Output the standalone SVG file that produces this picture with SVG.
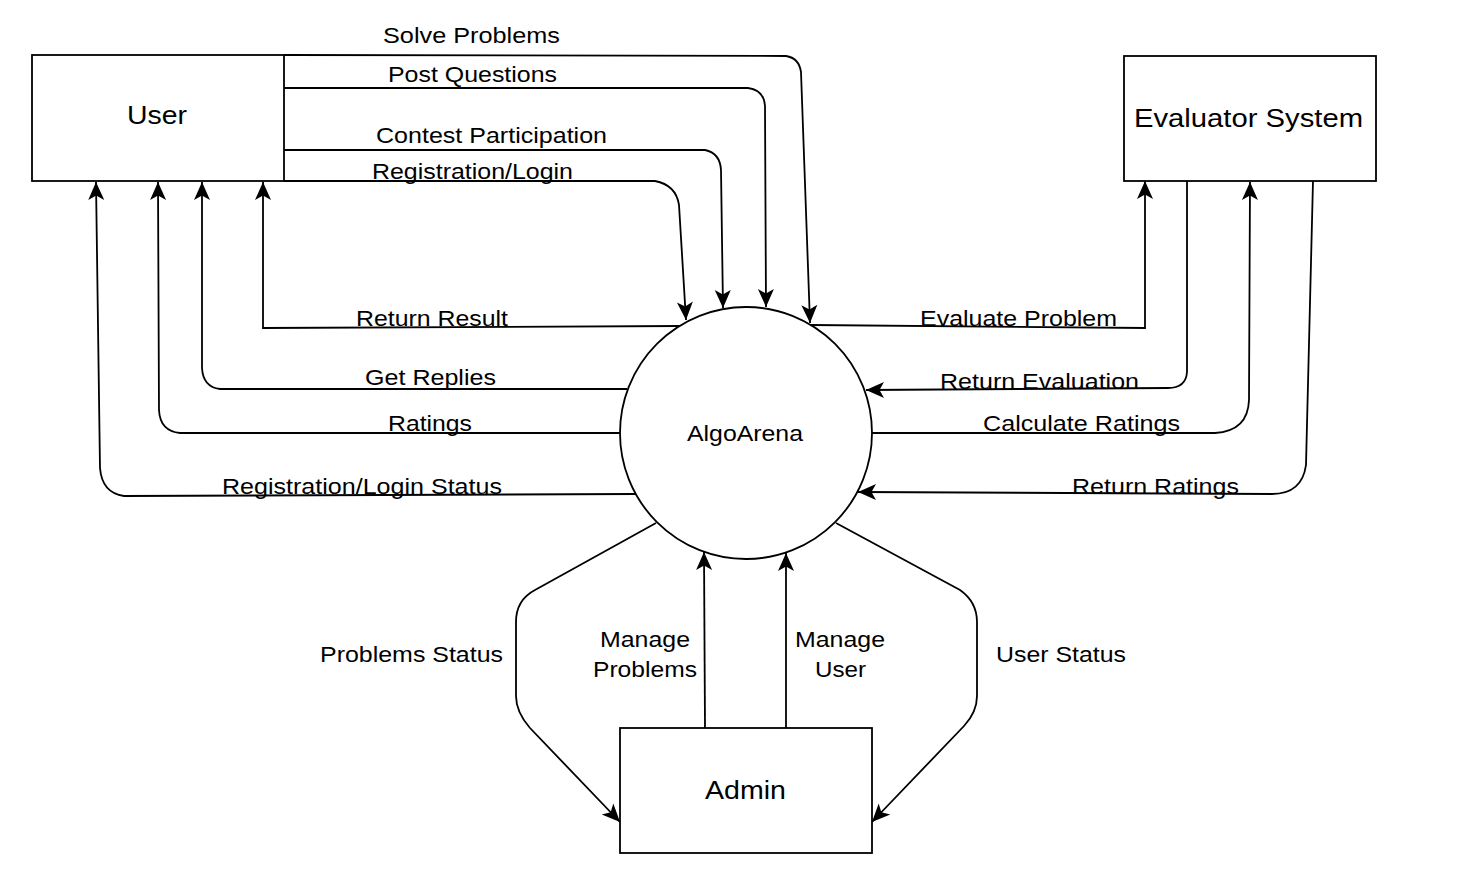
<svg xmlns="http://www.w3.org/2000/svg" width="1460" height="892" viewBox="0 0 1460 892">
<style>
.node{fill:#fff;stroke:#000;stroke-width:1.8}
.edge{fill:none;stroke:#000;stroke-width:1.8;marker-end:url(#arr)}
.lbl{font-family:"Liberation Sans",Arial,Helvetica,sans-serif;font-size:22px;fill:#000}
.nlbl{font-family:"Liberation Sans",Arial,Helvetica,sans-serif;font-size:26.5px;fill:#000}
</style>
<defs>
<marker id="arr" markerUnits="userSpaceOnUse" markerWidth="22" markerHeight="22" viewBox="0 0 22 22" refX="19" refY="11" orient="auto">
<path d="M19,11 L1,3 L5.5,11 L1,19 Z" fill="#000"/>
</marker>
</defs>
<rect width="1460" height="892" fill="#fff"/>
<g id="connectors">
<path class="edge" d="M284,55 L786,56 Q799,58 801,72 L810,323"/>
<path class="edge" d="M284,88 L748,88 Q764,90 765,106 L766,307"/>
<path class="edge" d="M284,150 L705,150 Q720,153 721,170 L723,308"/>
<path class="edge" d="M284,181 L655,181 Q676,185 679,205 L686,320"/>
<path class="edge" d="M680,326 L263,328 L263,182"/>
<path class="edge" d="M627,389 L220,389 Q203,387 202,368 L202,182"/>
<path class="edge" d="M620,433 L180,433 Q160,431 159,410 L158,182"/>
<path class="edge" d="M636,494 L124,496 Q102,493 100,468 L96,182"/>
<path class="edge" d="M811,325 L1145,328 L1145,181"/>
<path class="edge" d="M1187,181 L1187,372 Q1186,388 1168,388 L866,390"/>
<path class="edge" d="M872,433 L1215,433 Q1248,431 1249,400 L1250,182"/>
<path class="edge" d="M1313,181 L1306,465 Q1302,494 1272,494 L858,492"/>
<path class="edge" d="M656,523 L535,590 Q516,600 516,622 L516,696 Q516,712 530,728 L620,822"/>
<path class="edge" d="M836,523 L960,590 Q977,602 977,622 L977,696 Q977,712 964,726 L872,822"/>
<path class="edge" d="M705,728 L704,552"/>
<path class="edge" d="M786,728 L786,553"/>
</g>
<g id="edge-labels">
<text class="lbl" x="383" y="42.5" textLength="177" lengthAdjust="spacingAndGlyphs">Solve Problems</text>
<text class="lbl" x="388" y="82" textLength="169" lengthAdjust="spacingAndGlyphs">Post Questions</text>
<text class="lbl" x="376" y="143" textLength="231" lengthAdjust="spacingAndGlyphs">Contest Participation</text>
<text class="lbl" x="372" y="179" textLength="201" lengthAdjust="spacingAndGlyphs">Registration/Login</text>
<text class="lbl" x="356" y="326" textLength="152" lengthAdjust="spacingAndGlyphs">Return Result</text>
<text class="lbl" x="365" y="385" textLength="131" lengthAdjust="spacingAndGlyphs">Get Replies</text>
<text class="lbl" x="388" y="430.5" textLength="84" lengthAdjust="spacingAndGlyphs">Ratings</text>
<text class="lbl" x="222" y="494" textLength="280" lengthAdjust="spacingAndGlyphs">Registration/Login Status</text>
<text class="lbl" x="920" y="326" textLength="197" lengthAdjust="spacingAndGlyphs">Evaluate Problem</text>
<text class="lbl" x="940" y="389" textLength="199" lengthAdjust="spacingAndGlyphs">Return Evaluation</text>
<text class="lbl" x="983" y="431" textLength="197" lengthAdjust="spacingAndGlyphs">Calculate Ratings</text>
<text class="lbl" x="1072" y="494" textLength="167" lengthAdjust="spacingAndGlyphs">Return Ratings</text>
<text class="lbl" x="320" y="662" textLength="183" lengthAdjust="spacingAndGlyphs">Problems Status</text>
<text class="lbl" x="600" y="647" textLength="90" lengthAdjust="spacingAndGlyphs">Manage</text>
<text class="lbl" x="593" y="677" textLength="104" lengthAdjust="spacingAndGlyphs">Problems</text>
<text class="lbl" x="795" y="647" textLength="90" lengthAdjust="spacingAndGlyphs">Manage</text>
<text class="lbl" x="815" y="677" textLength="51" lengthAdjust="spacingAndGlyphs">User</text>
<text class="lbl" x="996" y="662" textLength="130" lengthAdjust="spacingAndGlyphs">User Status</text>
</g>
<g id="user">
<rect class="node" x="32" y="55" width="252" height="126"/>
<text class="nlbl" x="127" y="124" textLength="60" lengthAdjust="spacingAndGlyphs">User</text>
</g>
<g id="evaluator">
<rect class="node" x="1124" y="56" width="252" height="125"/>
<text class="nlbl" x="1134" y="127" textLength="229" lengthAdjust="spacingAndGlyphs">Evaluator System</text>
</g>
<g id="algoarena">
<circle class="node" cx="746" cy="433" r="126" style="fill:none"/>
<text class="lbl" x="687" y="441" textLength="116" lengthAdjust="spacingAndGlyphs">AlgoArena</text>
</g>
<g id="admin">
<rect class="node" x="620" y="728" width="252" height="125"/>
<text class="nlbl" x="705" y="799" textLength="81" lengthAdjust="spacingAndGlyphs">Admin</text>
</g>
</svg>
